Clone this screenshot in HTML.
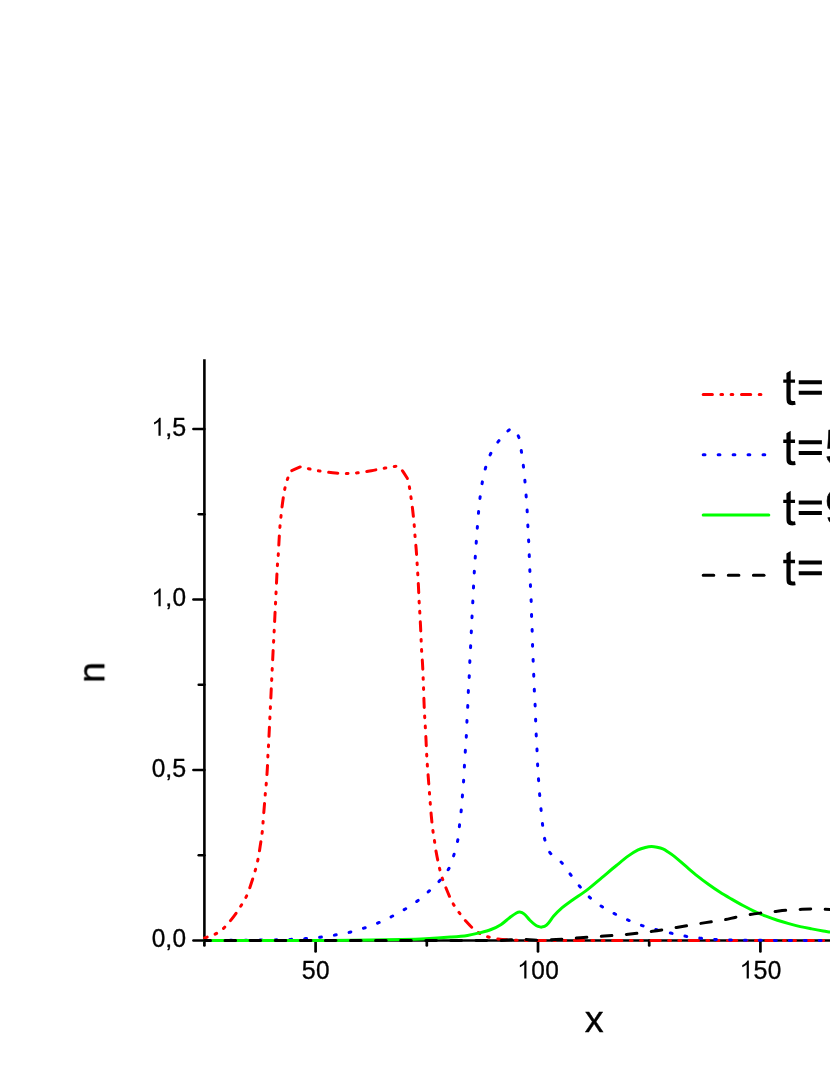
<!DOCTYPE html>
<html><head><meta charset="utf-8"><title>chart</title>
<style>
html,body{margin:0;padding:0;background:#fff;}
body{width:830px;height:1075px;overflow:hidden;}
svg{display:block;}
text{font-family:"Liberation Sans",sans-serif;fill:#000;stroke:#000;stroke-linejoin:round;}
.s{stroke-width:0.35px;} .l{stroke-width:0.6px;} .m{stroke-width:0.4px;}
</style></head><body>
<svg width="830" height="1075" viewBox="0 0 830 1075">
<rect width="830" height="1075" fill="#fff"/>
<line x1="204.4" y1="359.3" x2="204.4" y2="941.8499999999999" stroke="#000" stroke-width="2.6"/>
<line x1="203.1" y1="940.55" x2="830" y2="940.55" stroke="#000" stroke-width="2.6"/>
<line x1="193.4" y1="940.55" x2="204.4" y2="940.55" stroke="#000" stroke-width="2.5" stroke-linecap="round"/>
<line x1="193.4" y1="770.00" x2="204.4" y2="770.00" stroke="#000" stroke-width="2.5" stroke-linecap="round"/>
<line x1="193.4" y1="599.45" x2="204.4" y2="599.45" stroke="#000" stroke-width="2.5" stroke-linecap="round"/>
<line x1="193.4" y1="428.90" x2="204.4" y2="428.90" stroke="#000" stroke-width="2.5" stroke-linecap="round"/>
<line x1="198.7" y1="855.27" x2="204.4" y2="855.27" stroke="#000" stroke-width="2.5" stroke-linecap="round"/>
<line x1="198.7" y1="684.72" x2="204.4" y2="684.72" stroke="#000" stroke-width="2.5" stroke-linecap="round"/>
<line x1="198.7" y1="514.17" x2="204.4" y2="514.17" stroke="#000" stroke-width="2.5" stroke-linecap="round"/>
<line x1="315.60" y1="940.55" x2="315.60" y2="951.4" stroke="#000" stroke-width="2.7" stroke-linecap="round"/>
<line x1="538.00" y1="940.55" x2="538.00" y2="951.4" stroke="#000" stroke-width="2.7" stroke-linecap="round"/>
<line x1="760.40" y1="940.55" x2="760.40" y2="951.4" stroke="#000" stroke-width="2.7" stroke-linecap="round"/>
<line x1="204.40" y1="940.55" x2="204.40" y2="945.5" stroke="#000" stroke-width="2.7" stroke-linecap="round"/>
<line x1="426.80" y1="940.55" x2="426.80" y2="945.5" stroke="#000" stroke-width="2.7" stroke-linecap="round"/>
<line x1="649.20" y1="940.55" x2="649.20" y2="945.5" stroke="#000" stroke-width="2.7" stroke-linecap="round"/>
<path d="M204.60,938.00 C208.60,936.47 212.82,935.41 216.60,933.40 C219.48,931.87 222.09,929.81 224.40,927.50 C228.00,923.90 231.14,919.87 234.20,915.80 C237.02,912.05 239.53,908.08 242.00,904.10 C243.77,901.25 245.53,898.36 246.90,895.30 C248.60,891.51 249.89,887.54 251.20,883.60 C252.82,878.74 254.34,873.84 255.70,868.90 C256.67,865.37 257.51,861.80 258.20,858.20 C259.14,853.33 259.85,848.41 260.60,843.50 C261.29,838.97 261.99,834.45 262.50,829.90 C262.86,826.65 262.95,823.37 263.20,820.10 C263.55,815.53 263.93,810.97 264.30,806.40 C264.67,801.83 265.01,797.26 265.40,792.70 C265.71,789.13 266.12,785.57 266.40,782.00 C266.79,777.10 267.12,772.20 267.40,767.30 C267.66,762.77 267.77,758.23 268.00,753.70 C268.17,750.43 268.44,747.17 268.60,743.90 C270.17,712.27 271.64,680.63 273.20,649.00 C273.34,646.07 273.54,643.13 273.70,640.20 C273.87,636.97 274.04,633.73 274.20,630.50 C274.44,625.60 274.66,620.70 274.90,615.80 C275.13,611.23 275.38,606.67 275.60,602.10 C275.78,598.53 275.93,594.97 276.10,591.40 C276.33,586.50 276.55,581.60 276.80,576.70 C277.02,572.47 277.22,568.23 277.50,564.00 C277.72,560.76 278.09,557.54 278.30,554.30 C278.62,549.40 278.81,544.50 279.10,539.60 C279.37,535.06 279.63,530.53 280.00,526.00 C280.27,522.73 280.64,519.46 281.00,516.20 C281.51,511.63 281.96,507.05 282.60,502.50 C283.26,497.78 283.92,493.06 284.90,488.40 C285.56,485.25 286.52,482.17 287.50,479.10 C288.35,476.43 289.43,473.83 290.40,471.20 C293.87,469.70 297.33,468.20 300.80,466.70 C303.33,467.37 305.85,468.11 308.40,468.70 C311.95,469.51 315.51,470.30 319.10,470.90 C323.65,471.66 328.21,472.35 332.80,472.80 C337.35,473.25 341.93,473.60 346.50,473.60 C350.28,473.60 354.05,473.24 357.80,472.80 C362.32,472.27 366.81,471.48 371.30,470.70 C375.85,469.91 380.36,468.92 384.90,468.10 C388.29,467.49 391.67,466.72 395.10,466.40 C396.66,466.25 398.23,466.60 399.80,466.70 C402.30,470.53 404.80,474.37 407.30,478.20 C407.97,480.97 408.76,483.71 409.30,486.50 C409.96,489.88 410.41,493.29 410.90,496.70 C411.55,501.23 412.17,505.76 412.70,510.30 C413.27,515.19 413.76,520.09 414.20,525.00 C414.49,528.23 414.64,531.47 414.90,534.70 C415.30,539.60 415.82,544.50 416.20,549.40 C416.55,553.96 416.81,558.53 417.10,563.10 C417.31,566.33 417.51,569.57 417.70,572.80 C417.98,577.70 418.26,582.60 418.50,587.50 C418.73,592.07 418.87,596.63 419.10,601.20 C419.27,604.44 419.51,607.67 419.70,610.90 C419.98,615.80 420.26,620.70 420.50,625.60 C420.73,630.17 420.90,634.73 421.10,639.30 C421.24,642.47 421.32,645.64 421.50,648.80 C421.78,653.67 422.22,658.53 422.50,663.40 C422.75,667.83 422.91,672.27 423.10,676.70 C423.24,680.10 423.38,683.50 423.50,686.90 C423.68,691.77 423.81,696.63 424.00,701.50 C424.18,706.07 424.37,710.63 424.60,715.20 C424.77,718.47 425.01,721.73 425.20,725.00 C425.48,729.87 425.76,734.73 426.00,739.60 C426.22,744.03 426.37,748.47 426.60,752.90 C426.77,756.30 426.97,759.70 427.20,763.10 C427.53,767.97 427.93,772.83 428.30,777.70 C428.63,782.07 428.97,786.43 429.30,790.80 C429.57,794.27 429.82,797.73 430.10,801.20 C430.49,806.07 430.85,810.94 431.30,815.80 C431.71,820.24 432.14,824.68 432.70,829.10 C433.11,832.38 433.70,835.63 434.20,838.90 C434.90,843.53 435.48,848.19 436.30,852.80 C437.11,857.32 438.09,861.82 439.10,866.30 C439.82,869.52 440.49,872.76 441.50,875.90 C442.93,880.34 444.63,884.69 446.40,889.00 C448.23,893.46 450.07,897.93 452.30,902.20 C453.84,905.15 455.77,907.89 457.70,910.60 C460.27,914.20 462.85,917.81 465.80,921.10 C468.93,924.59 472.17,928.05 475.90,930.90 C478.70,933.03 481.90,934.67 485.20,935.90 C488.99,937.32 493.00,938.19 497.00,938.80 C502.29,939.60 507.65,939.89 513.00,940.10 C521.99,940.45 531.00,940.44 540.00,940.45 C636.67,940.57 733.33,940.48 830.00,940.50" fill="none" stroke="#f00" stroke-width="3.0" stroke-linecap="round" stroke-linejoin="round" stroke-dasharray="9.2 8.5 1.7 8.5 1.7 8.7" stroke-dashoffset="6.5"/>
<path d="M204.40,940.50 C226.27,940.33 248.13,940.28 270.00,940.00 C276.84,939.91 283.67,939.67 290.50,939.40 C295.34,939.21 300.17,938.96 305.00,938.60 C310.01,938.23 315.01,937.79 320.00,937.20 C325.08,936.59 330.15,935.85 335.20,935.00 C340.09,934.18 344.98,933.35 349.80,932.20 C354.59,931.05 359.32,929.63 364.00,928.10 C368.79,926.53 373.55,924.85 378.20,922.90 C382.79,920.98 387.27,918.77 391.70,916.50 C396.17,914.20 400.60,911.80 404.90,909.20 C409.27,906.56 413.61,903.85 417.70,900.80 C421.66,897.84 425.35,894.53 429.00,891.20 C432.72,887.80 436.47,884.39 439.80,880.60 C443.13,876.81 446.51,872.95 448.90,868.50 C451.40,863.85 452.75,858.65 454.30,853.60 C455.78,848.77 457.10,843.87 458.00,838.90 C458.87,834.12 459.06,829.23 459.60,824.40 C460.16,819.47 460.82,814.54 461.30,809.60 C461.78,804.64 462.10,799.67 462.50,794.70 C462.90,789.63 463.36,784.57 463.70,779.50 C464.03,774.54 464.22,769.57 464.50,764.60 C464.78,759.67 465.08,754.73 465.40,749.80 C465.72,744.83 466.13,739.87 466.40,734.90 C466.67,729.97 466.77,725.03 467.00,720.10 C467.23,715.10 467.57,710.10 467.80,705.10 C468.03,700.13 468.15,695.16 468.40,690.20 C468.65,685.20 469.05,680.20 469.30,675.20 C469.55,670.10 469.66,665.00 469.90,659.90 C470.13,654.90 470.45,649.90 470.70,644.90 C471.19,634.97 471.61,625.03 472.10,615.10 C472.35,610.03 472.65,604.97 472.90,599.90 C473.15,595.00 473.35,590.10 473.60,585.20 C473.85,580.20 474.10,575.20 474.40,570.20 C474.70,565.16 475.07,560.13 475.40,555.10 C475.73,550.10 476.05,545.10 476.40,540.10 C476.75,535.17 477.12,530.23 477.50,525.30 C477.88,520.40 478.24,515.49 478.70,510.60 C479.17,505.59 479.65,500.59 480.30,495.60 C480.95,490.62 481.64,485.63 482.60,480.70 C483.51,475.99 484.51,471.29 485.90,466.70 C487.31,462.04 488.82,457.36 491.00,453.00 C493.15,448.71 495.82,444.66 498.80,440.90 C502.05,436.80 505.61,432.89 509.60,429.50 C510.57,428.68 512.07,428.90 513.30,428.60 C515.13,431.50 517.67,434.06 518.80,437.30 C520.46,442.07 520.71,447.21 521.50,452.20 C522.28,457.12 522.92,462.06 523.50,467.00 C524.08,471.96 524.55,476.93 525.00,481.90 C525.45,486.83 525.83,491.76 526.20,496.70 C526.57,501.66 526.92,506.63 527.20,511.60 C527.49,516.66 527.65,521.73 527.90,526.80 C528.15,531.83 528.46,536.87 528.70,541.90 C528.93,546.77 529.10,551.63 529.30,556.50 C529.50,561.60 529.70,566.70 529.90,571.80 C530.10,576.80 530.28,581.80 530.50,586.80 C530.72,591.83 531.02,596.86 531.20,601.90 C531.38,606.93 531.43,611.97 531.60,617.00 C531.77,621.93 532.03,626.87 532.20,631.80 C532.37,636.83 532.43,641.87 532.60,646.90 C532.77,651.90 533.00,656.90 533.20,661.90 C533.40,666.87 533.60,671.83 533.80,676.80 C534.00,681.80 534.17,686.80 534.40,691.80 C534.63,696.83 534.98,701.86 535.20,706.90 C535.42,711.90 535.52,716.90 535.70,721.90 C535.88,726.83 536.07,731.77 536.30,736.70 C536.53,741.67 536.87,746.63 537.10,751.60 C537.33,756.60 537.44,761.60 537.70,766.60 C537.97,771.67 538.34,776.73 538.70,781.80 C539.04,786.67 539.39,791.54 539.80,796.40 C540.22,801.37 540.71,806.34 541.20,811.30 C541.68,816.14 542.06,820.98 542.70,825.80 C543.36,830.79 543.77,835.85 545.10,840.70 C546.25,844.91 547.48,849.31 550.10,852.80 C552.94,856.59 557.75,858.46 561.00,861.90 C564.46,865.57 567.04,869.99 570.10,874.00 C573.04,877.85 575.89,881.78 579.00,885.50 C582.33,889.49 585.59,893.57 589.40,897.10 C593.09,900.53 597.20,903.52 601.40,906.30 C605.58,909.07 610.04,911.40 614.50,913.70 C619.05,916.04 623.69,918.20 628.40,920.20 C633.17,922.23 637.99,924.15 642.90,925.80 C647.63,927.39 652.47,928.65 657.30,929.90 C662.11,931.15 666.95,932.23 671.80,933.30 C676.75,934.40 681.70,935.56 686.70,936.40 C691.57,937.22 696.49,937.79 701.40,938.30 C706.39,938.82 711.39,939.25 716.40,939.50 C724.26,939.89 732.13,940.13 740.00,940.20 C770.00,940.46 800.00,940.40 830.00,940.50" fill="none" stroke="#00f" stroke-width="3.0" stroke-linecap="round" stroke-linejoin="round" stroke-dasharray="1.8 13.15" stroke-dashoffset="4.3"/>
<path d="M204.40,940.45 C246.27,940.43 288.13,940.49 330.00,940.40 C343.33,940.37 356.67,940.25 370.00,940.10 C380.00,939.99 390.00,939.84 400.00,939.60 C408.44,939.40 416.87,939.22 425.30,938.80 C433.74,938.38 442.17,937.78 450.60,937.10 C456.24,936.65 461.90,936.22 467.50,935.40 C471.48,934.82 475.40,933.88 479.30,932.90 C483.27,931.91 487.28,930.98 491.10,929.50 C494.62,928.14 498.02,926.43 501.20,924.40 C504.22,922.47 506.73,919.85 509.60,917.70 C511.80,916.05 513.98,914.33 516.40,913.00 C517.43,912.44 518.63,911.98 519.80,912.10 C521.30,912.26 522.82,912.86 524.00,913.80 C526.26,915.62 527.84,918.16 529.90,920.20 C531.48,921.76 533.13,923.26 534.90,924.60 C535.88,925.34 536.95,925.98 538.10,926.40 C539.25,926.82 540.49,927.27 541.70,927.10 C543.40,926.86 545.23,926.36 546.50,925.20 C549.35,922.59 551.12,918.98 553.70,916.10 C556.36,913.13 559.18,910.30 562.20,907.70 C565.23,905.09 568.55,902.83 571.80,900.50 C576.98,896.79 582.43,893.46 587.50,889.60 C592.47,885.82 597.10,881.60 601.90,877.60 C606.73,873.57 611.53,869.49 616.40,865.50 C620.36,862.25 624.24,858.89 628.40,855.90 C631.49,853.68 634.70,851.59 638.10,849.90 C640.37,848.77 642.85,848.13 645.30,847.50 C647.30,846.99 649.34,846.55 651.40,846.50 C653.28,846.45 655.16,846.82 657.00,847.20 C659.00,847.62 661.02,848.08 662.90,848.90 C664.89,849.76 666.68,851.02 668.50,852.20 C670.49,853.49 672.46,854.81 674.30,856.30 C678.23,859.48 681.95,862.92 685.80,866.20 C689.58,869.42 693.32,872.70 697.20,875.80 C700.96,878.80 704.80,881.69 708.70,884.50 C712.44,887.19 716.22,889.82 720.10,892.30 C723.86,894.69 727.74,896.88 731.60,899.10 C735.38,901.28 739.15,903.45 743.00,905.50 C746.79,907.52 750.60,909.50 754.50,911.30 C758.24,913.03 762.06,914.61 765.90,916.10 C769.69,917.57 773.53,918.93 777.40,920.20 C781.17,921.43 784.98,922.53 788.80,923.60 C792.62,924.67 796.44,925.71 800.30,926.60 C804.08,927.47 807.89,928.17 811.70,928.90 C815.53,929.64 819.36,930.33 823.20,931.00 C825.46,931.40 827.73,931.73 830.00,932.10" fill="none" stroke="#0f0" stroke-width="3.0" stroke-linecap="round" stroke-linejoin="round"/>
<path d="M204.40,940.50 C302.93,940.47 401.47,940.81 500.00,940.40 C506.68,940.37 513.32,939.24 520.00,939.20 C526.01,939.17 531.99,940.15 538.00,940.20 C544.00,940.25 550.01,939.84 556.00,939.50 C564.07,939.04 572.13,938.37 580.20,937.80 C588.23,937.23 596.27,936.70 604.30,936.10 C612.34,935.50 620.38,935.00 628.40,934.20 C636.45,933.40 644.49,932.41 652.50,931.30 C660.56,930.18 668.57,928.82 676.60,927.50 C684.64,926.18 692.66,924.73 700.70,923.40 C704.33,922.80 707.96,922.25 711.60,921.70 C715.73,921.08 719.89,920.66 724.00,919.90 C728.00,919.16 731.92,918.04 735.90,917.20 C740.32,916.27 744.74,915.34 749.20,914.60 C753.15,913.94 757.13,913.48 761.10,913.00 C765.06,912.52 769.03,912.13 773.00,911.70 C777.43,911.23 781.86,910.67 786.30,910.30 C790.69,909.94 795.10,909.73 799.50,909.50 C803.50,909.29 807.50,909.00 811.50,909.00 C817.67,909.00 823.83,909.33 830.00,909.50" fill="none" stroke="#000" stroke-width="3.0" stroke-linecap="round" stroke-linejoin="round" stroke-dasharray="10.6 14.5" stroke-dashoffset="4.5"/>
<line x1="703.2" y1="394.5" x2="764" y2="394.5" stroke="#f00" stroke-width="3.0" stroke-linecap="round" stroke-dasharray="9.2 8.5 1.7 8.5 1.7 8.7"/>
<line x1="703.2" y1="454.65" x2="770" y2="454.65" stroke="#00f" stroke-width="3.0" stroke-linecap="round" stroke-dasharray="1.8 13.15"/>
<line x1="703.2" y1="514.9" x2="768.8" y2="514.9" stroke="#0f0" stroke-width="3.0" stroke-linecap="round"/>
<line x1="703.2" y1="575.2" x2="770" y2="575.2" stroke="#000" stroke-width="3.0" stroke-linecap="round" stroke-dasharray="10.6 14.5"/>
<g opacity="0.999">
<g aria-label="0,0"><text class="s" font-size="25" transform="translate(151.65,947.45) scale(0.975,1.02)">0</text>
<text class="s" font-size="25" transform="translate(165.25,947.45) scale(1,0.9)">,</text>
<text class="s" font-size="25" transform="translate(172.50,947.45) scale(0.975,1.02)">0</text></g>
<g aria-label="0,5"><text class="s" font-size="25" transform="translate(151.65,776.90) scale(0.975,1.02)">0</text>
<text class="s" font-size="25" transform="translate(165.25,776.90) scale(1,0.9)">,</text>
<text class="s" font-size="25" transform="translate(172.20,776.90) scale(1,1.02)">5</text></g>
<g aria-label="1,0"><path d="M763 0H583V1147Q518 1085 412.5 1023Q307 961 223 930V1104Q374 1175 487 1276Q600 1377 647 1472H763Z" transform="translate(151.35,606.35) scale(0.01221,-0.01221)"/>
<text class="s" font-size="25" transform="translate(165.25,606.35) scale(1,0.9)">,</text>
<text class="s" font-size="25" transform="translate(172.50,606.35) scale(0.975,1.02)">0</text></g>
<g aria-label="1,5"><path d="M763 0H583V1147Q518 1085 412.5 1023Q307 961 223 930V1104Q374 1175 487 1276Q600 1377 647 1472H763Z" transform="translate(151.35,435.80) scale(0.01221,-0.01221)"/>
<text class="s" font-size="25" transform="translate(165.25,435.80) scale(1,0.9)">,</text>
<text class="s" font-size="25" transform="translate(172.20,435.80) scale(1,1.02)">5</text></g>
<g aria-label="50"><text class="s" font-size="25" transform="translate(301.70,978.50) scale(1,1.02)">5</text>
<text class="s" font-size="25" transform="translate(315.90,978.50) scale(0.975,1.02)">0</text></g>
<g aria-label="100"><path d="M763 0H583V1147Q518 1085 412.5 1023Q307 961 223 930V1104Q374 1175 487 1276Q600 1377 647 1472H763Z" transform="translate(517.14,978.50) scale(0.01221,-0.01221)"/>
<text class="s" font-size="25" transform="translate(531.35,978.50) scale(0.975,1.02)">0</text>
<text class="s" font-size="25" transform="translate(545.25,978.50) scale(0.975,1.02)">0</text></g>
<g aria-label="150"><path d="M763 0H583V1147Q518 1085 412.5 1023Q307 961 223 930V1104Q374 1175 487 1276Q600 1377 647 1472H763Z" transform="translate(739.54,978.50) scale(0.01221,-0.01221)"/>
<text class="s" font-size="25" transform="translate(753.45,978.50) scale(1,1.02)">5</text>
<text class="s" font-size="25" transform="translate(767.65,978.50) scale(0.975,1.02)">0</text></g>
<text x="594.1" y="1032.4" font-size="37.8" text-anchor="middle" class="m">x</text>
<text transform="translate(104.3,672.5) rotate(-90)" font-size="37.8" text-anchor="middle" class="m">n</text>
<g aria-label="t= 10"><path d="M528 161L554 2Q478 -14 418 -14Q320 -14 266 17Q212 48 190 98.5Q168 149 168 311V922H36V1062H168V1325L347 1433V1062H528V922H347V301Q347 224 356.5 202Q366 180 387.5 167Q409 154 449 154Q479 154 528 161Z" transform="translate(782.40,404.80) scale(0.02393,-0.02393)"/>
<path d="M1082 862H114V1030H1082ZM1082 417H114V585H1082Z" transform="translate(796.01,404.80) scale(0.02393,-0.02393)"/>
<path d="M763 0H583V1147Q518 1085 412.5 1023Q307 961 223 930V1104Q374 1175 487 1276Q600 1377 647 1472H763Z" transform="translate(838.24,404.80) scale(0.02393,-0.02393)"/>
<text class="l" font-size="49" transform="translate(866.08,404.80) scale(0.975,1.02)">0</text></g>
<g aria-label="t=50"><path d="M528 161L554 2Q478 -14 418 -14Q320 -14 266 17Q212 48 190 98.5Q168 149 168 311V922H36V1062H168V1325L347 1433V1062H528V922H347V301Q347 224 356.5 202Q366 180 387.5 167Q409 154 449 154Q479 154 528 161Z" transform="translate(782.40,464.95) scale(0.02393,-0.02393)"/>
<path d="M1082 862H114V1030H1082ZM1082 417H114V585H1082Z" transform="translate(796.01,464.95) scale(0.02393,-0.02393)"/>
<text class="l" font-size="49" transform="translate(824.63,464.95) scale(1,1.02)">5</text>
<text class="l" font-size="49" transform="translate(852.47,464.95) scale(0.975,1.02)">0</text></g>
<g aria-label="t=90"><path d="M528 161L554 2Q478 -14 418 -14Q320 -14 266 17Q212 48 190 98.5Q168 149 168 311V922H36V1062H168V1325L347 1433V1062H528V922H347V301Q347 224 356.5 202Q366 180 387.5 167Q409 154 449 154Q479 154 528 161Z" transform="translate(782.40,525.10) scale(0.02393,-0.02393)"/>
<path d="M1082 862H114V1030H1082ZM1082 417H114V585H1082Z" transform="translate(796.01,525.10) scale(0.02393,-0.02393)"/>
<text class="l" font-size="49" transform="translate(824.63,525.10) scale(1,1.02)">9</text>
<text class="l" font-size="49" transform="translate(852.47,525.10) scale(0.975,1.02)">0</text></g>
<g aria-label="t= 130"><path d="M528 161L554 2Q478 -14 418 -14Q320 -14 266 17Q212 48 190 98.5Q168 149 168 311V922H36V1062H168V1325L347 1433V1062H528V922H347V301Q347 224 356.5 202Q366 180 387.5 167Q409 154 449 154Q479 154 528 161Z" transform="translate(782.40,585.25) scale(0.02393,-0.02393)"/>
<path d="M1082 862H114V1030H1082ZM1082 417H114V585H1082Z" transform="translate(796.01,585.25) scale(0.02393,-0.02393)"/>
<path d="M763 0H583V1147Q518 1085 412.5 1023Q307 961 223 930V1104Q374 1175 487 1276Q600 1377 647 1472H763Z" transform="translate(838.24,585.25) scale(0.02393,-0.02393)"/>
<text class="l" font-size="49" transform="translate(865.49,585.25) scale(1,1.02)">3</text>
<text class="l" font-size="49" transform="translate(893.33,585.25) scale(0.975,1.02)">0</text></g>
</g>
</svg>
</body></html>
